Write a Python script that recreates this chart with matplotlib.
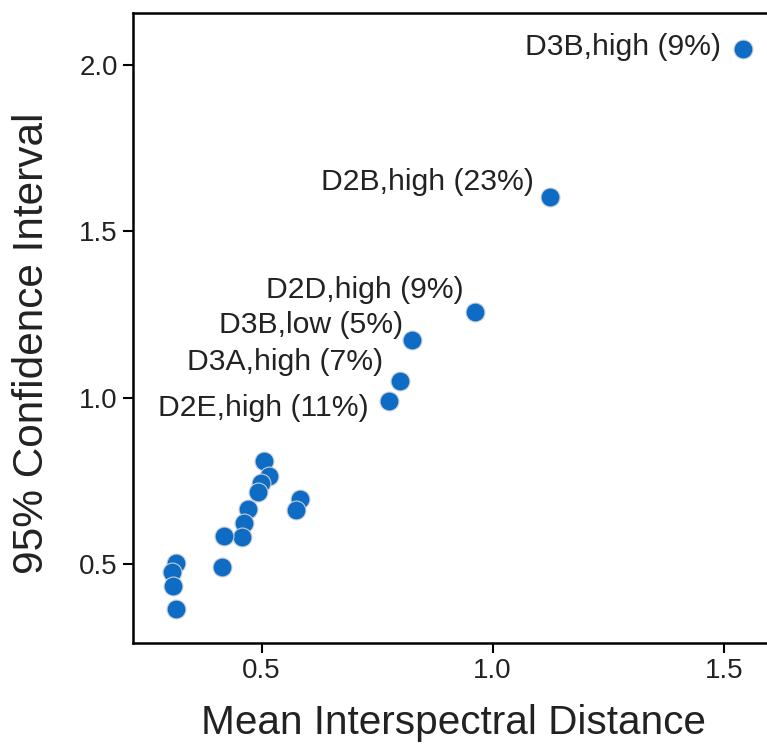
import matplotlib
matplotlib.use('Agg')
import matplotlib.pyplot as plt

plt.rcParams['font.family'] = ['Liberation Sans', 'DejaVu Sans']

# mean interspectral distance vs 95% CI
mean_dist = [1.542, 1.124, 0.961, 0.825, 0.800, 0.776,
             0.506, 0.516, 0.498, 0.493, 0.470, 0.463, 0.457,
             0.418, 0.414, 0.584, 0.575,
             0.314, 0.306, 0.308, 0.315]
ci95 = [2.047, 1.604, 1.257, 1.172, 1.051, 0.991,
        0.808, 0.765, 0.743, 0.717, 0.665, 0.624, 0.582,
        0.585, 0.492, 0.696, 0.662,
        0.504, 0.477, 0.434, 0.365]
labels = ['D3B,high (9%)', 'D2B,high (23%)', 'D2D,high (9%)',
          'D3B,low (5%)', 'D3A,high (7%)', 'D2E,high (11%)']
# label offsets from the point, in pixels
label_off = [(-22, 2), (-16, 15), (-11, 22), (-9, 15), (-17, 19), (-20, -7)]

fig = plt.figure(figsize=(7.67, 7.45), dpi=100)
ax = fig.add_axes([0.1734, 0.1369, 0.8366, 0.8457])

ax.scatter(mean_dist, ci95, s=185, color='#0e6cc4', edgecolors='#c8ced6',
           linewidths=0.8, zorder=3)

for i, lab in enumerate(labels):
    ax.annotate(lab, (mean_dist[i], ci95[i]), xytext=label_off[i],
                textcoords='offset pixels', ha='right', va='center',
                fontsize=21.7, color='#222222')

ax.set_xlim(0.222, 1.61)
ax.set_ylim(0.2625, 2.156)
ax.set_xticks([0.5, 1.0, 1.5])
ax.set_yticks([0.5, 1.0, 1.5, 2.0])
ax.tick_params(labelsize=20, width=1.5, length=7, colors='black',
               labelcolor='#222222', pad=4)
for sp in ax.spines.values():
    sp.set_linewidth(1.8)

ax.set_xlabel('Mean Interspectral Distance', fontsize=29.2, color='#222222',
              labelpad=14)
ax.set_ylabel('95% Confidence Interval', fontsize=30.5, color='#222222')
ax.yaxis.set_label_coords(-0.126, 0.475)

fig.savefig('out.png', dpi=100)
